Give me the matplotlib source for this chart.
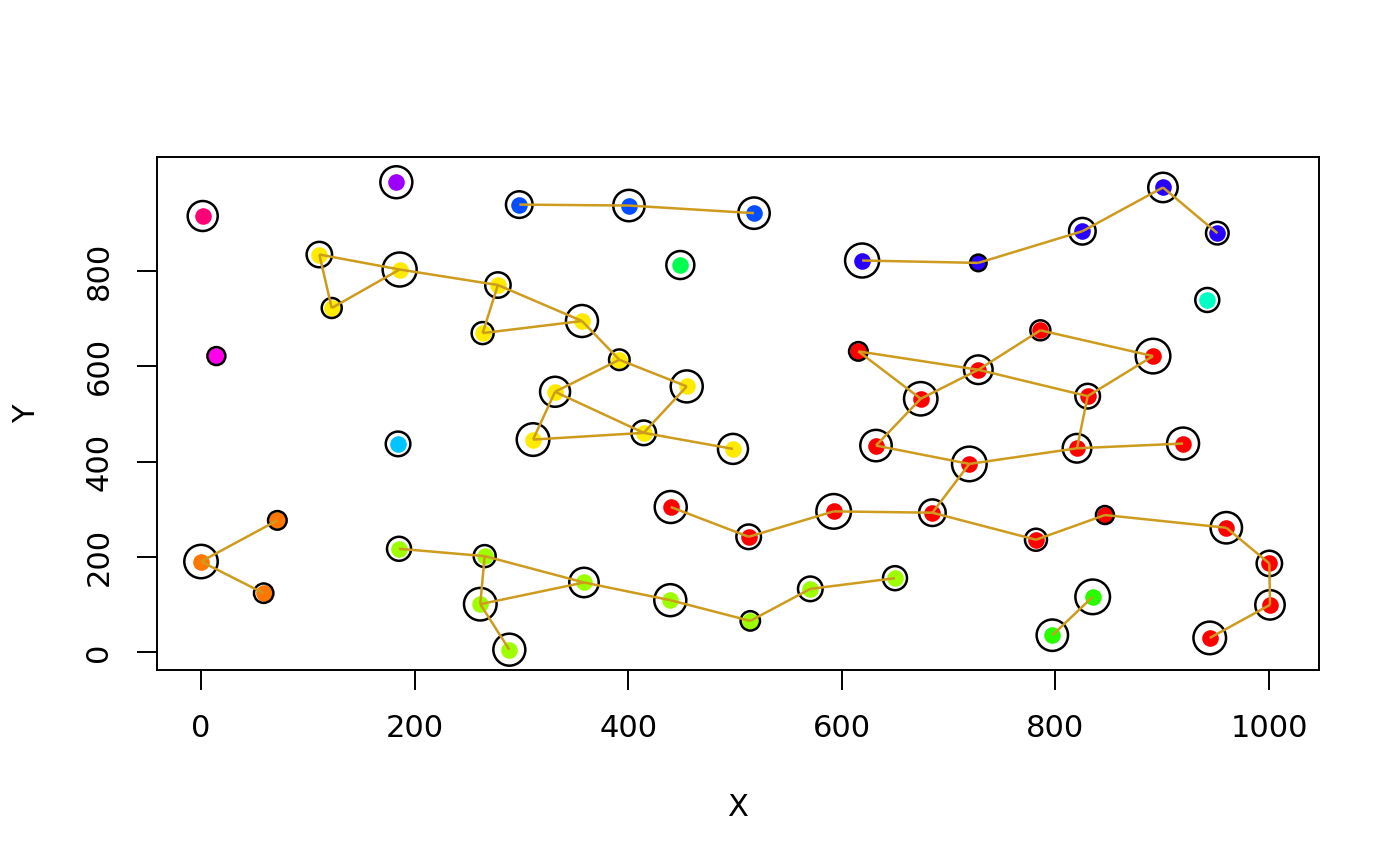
import numpy as np
import matplotlib
matplotlib.use("Agg")
import matplotlib.pyplot as plt

# ---- point data: x, y, colour group, ring weight (ring radius, px) ----
# rainbow(13) style palette
pal = {
    "red": "#FF0000", "orange": "#FF7600", "yellow": "#FFEB00",
    "lime": "#9DFF00", "green": "#27FF00", "spring": "#00FF4E",
    "aqua": "#00FFC4", "sky": "#00C4FF", "blue": "#004EFF",
    "violet": "#2700FF", "purple": "#9D00FF", "magenta": "#FF00EB",
    "pink": "#FF0076",
}

yellow_x = [110.8, 122.4, 186.0, 278.0, 263.7, 356.7, 391.7, 331.5, 454.8, 414.5, 310.9, 498.1]
yellow_y = [835.0, 722.7, 803.6, 771.0, 670.0, 695.4, 614.0, 546.7, 558.0, 460.4, 446.3, 426.7]
yellow_w = [12.7, 10.0, 17.0, 12.7, 11.0, 16.0, 10.3, 15.0, 16.0, 12.3, 16.3, 15.0]
yellow_e = [(0, 1), (1, 2), (0, 2), (2, 3), (3, 4), (4, 5), (3, 5), (5, 6), (6, 7),
            (6, 8), (8, 9), (7, 9), (7, 10), (10, 9), (9, 11)]

lime_x = [185.4, 265.6, 261.5, 288.7, 358.6, 439.4, 514.3, 570.5, 649.8]
lime_y = [216.8, 201.4, 100.4, 4.8, 146.0, 108.8, 65.3, 132.6, 155.0]
lime_w = [12.0, 11.0, 16.3, 16.0, 14.7, 16.0, 9.7, 12.3, 12.0]
lime_e = [(0, 1), (1, 2), (2, 3), (1, 4), (2, 4), (4, 5), (5, 6), (6, 7), (7, 8)]

red_x = [615.5, 673.9, 727.8, 785.9, 891.4, 830.2, 632.0, 719.4, 820.2, 919.5,
         684.8, 439.8, 512.8, 592.4, 781.8, 846.4, 960.0, 1000.3, 1000.9, 944.5]
red_y = [631.6, 532.0, 593.0, 675.8, 621.7, 537.5, 433.7, 395.1, 428.0, 437.9,
         292.6, 304.6, 242.0, 295.4, 235.8, 287.7, 261.0, 186.0, 99.0, 29.5]
red_w = [9.3, 16.7, 14.3, 10.0, 17.3, 12.3, 15.7, 17.3, 14.3, 16.0,
         13.3, 16.0, 12.3, 17.3, 11.0, 9.0, 15.7, 12.7, 14.7, 16.3]
red_e = [(0, 1), (0, 2), (1, 2), (2, 3), (3, 4), (4, 5), (2, 5), (5, 8), (1, 6),
         (6, 7), (7, 8), (8, 9), (7, 10), (11, 12), (12, 13), (13, 10), (10, 14),
         (14, 15), (15, 16), (16, 17), (17, 18), (18, 19)]

green_x = [834.9, 797.1]
green_y = [115.8, 35.2]
green_w = [17.3, 15.7]
green_e = [(0, 1)]

orange_x = [0.0, 71.5, 58.7]
orange_y = [190.0, 276.5, 123.5]
orange_w = [16.7, 9.3, 9.7]
orange_e = [(0, 1), (0, 2)]

blue_x = [298.0, 400.7, 517.8]
blue_y = [940.0, 938.0, 922.0]
blue_w = [13.3, 15.7, 15.7]
blue_e = [(0, 1), (1, 2)]

violet_x = [619.0, 727.8, 825.2, 900.7, 951.6]
violet_y = [822.5, 817.5, 884.0, 976.0, 880.0]
violet_w = [17.0, 8.3, 13.3, 14.7, 11.3]
violet_e = [(0, 1), (1, 2), (2, 3), (3, 4)]

# single points
single_x = [1.6, 182.9, 14.4, 448.8, 942.2, 184.5]
single_y = [916.0, 987.0, 621.7, 813.0, 739.6, 437.2]
single_w = [15.0, 16.0, 9.0, 14.0, 12.0, 12.3]
single_c = ["pink", "purple", "magenta", "spring", "aqua", "sky"]

groups = [
    ("yellow", yellow_x, yellow_y, yellow_w, yellow_e),
    ("lime", lime_x, lime_y, lime_w, lime_e),
    ("red", red_x, red_y, red_w, red_e),
    ("green", green_x, green_y, green_w, green_e),
    ("orange", orange_x, orange_y, orange_w, orange_e),
    ("blue", blue_x, blue_y, blue_w, blue_e),
    ("violet", violet_x, violet_y, violet_w, violet_e),
]
for i in range(len(single_x)):
    groups.append((single_c[i], [single_x[i]], [single_y[i]], [single_w[i]], []))

LINE_COL = "#CD9B1D"
DPI = 100
PX2PT = 72.0 / DPI

fig = plt.figure(figsize=(14, 8.66), dpi=DPI)
ax = fig.add_axes([157 / 1400, 1 - 670 / 866, (1319 - 157) / 1400, (670 - 157) / 866])

for cname, gx, gy, gw, ge in groups:
    gx = np.array(gx)
    gy = np.array(gy)
    gw = np.array(gw)
    # filled dot
    ax.scatter(gx, gy, s=(2 * 8.3 * PX2PT) ** 2, c=pal[cname], linewidths=0, zorder=2)
    # open ring, size by weight
    ax.scatter(gx, gy, s=(2 * gw * PX2PT) ** 2, facecolors="none",
               edgecolors="black", linewidths=1.8, zorder=3)
    for a, b in ge:
        ax.plot([gx[a], gx[b]], [gy[a], gy[b]], color=LINE_COL, lw=1.8, zorder=4,
                solid_capstyle="butt")

ax.set_xlim(-41.2, 1046.8)
ax.set_ylim(-37.9, 1040.0)
ax.set_xticks([0, 200, 400, 600, 800, 1000])
ax.set_yticks([0, 200, 400, 600, 800])
ax.tick_params(direction="out", length=14.4, width=1.4, labelsize=22, pad=17)
plt.setp(ax.get_yticklabels(), rotation=90, va="center")
for sp in ax.spines.values():
    sp.set_linewidth(1.4)

ax.set_xlabel("X", fontsize=22, labelpad=36)
ax.set_ylabel("Y", fontsize=22, labelpad=31)

fig.savefig("out.png", dpi=DPI)
